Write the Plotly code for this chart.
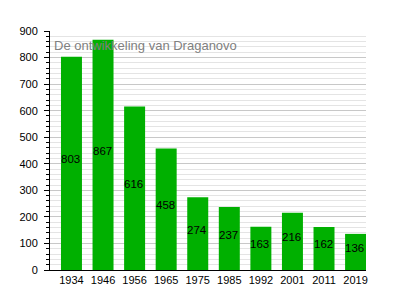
import plotly.graph_objects as go

years = ["1934", "1946", "1956", "1965", "1975", "1985", "1992", "2001", "2011", "2019"]
population = [803, 867, 616, 458, 274, 237, 163, 216, 162, 136]
title_text = "De ontwikkeling van Draganovo"

FONT = "Liberation Sans, Arial, sans-serif"

fig = go.Figure()
fig.add_trace(go.Bar(
    x=years, y=population,
    marker=dict(color="#00b000", line=dict(width=0)),
    hoverinfo="skip",
))

for i, v in enumerate(population):
    fig.add_annotation(
        x=i, y=v / 2, xref="x", yref="y",
        text=str(v), showarrow=False,
        xanchor="center", yanchor="middle",
        xshift=-1, yshift=4,
        font=dict(family=FONT, size=11.5, color="#000000"),
    )

fig.update_layout(
    width=395, height=300,
    margin=dict(l=50, r=29, t=31, b=30),
    paper_bgcolor="white", plot_bgcolor="white",
    bargap=0.335,
    showlegend=False,
    font=dict(family=FONT, size=11, color="#000000"),
)
fig.update_xaxes(
    type="category",
    range=[-0.68, 9.33],
    showline=True, linecolor="#000000", linewidth=1,
    ticks="", showgrid=False,
    tickfont=dict(size=11, color="#000000"),
)
fig.update_yaxes(
    range=[0, 900],
    dtick=100,
    showline=True, linecolor="#000000", linewidth=1,
    ticks="outside", ticklen=5, tickcolor="#000000",
    ticklabelstandoff=4,
    showgrid=True, gridcolor="#c8c8c8", gridwidth=1,
    zeroline=False,
    minor=dict(dtick=20, showgrid=True, gridcolor="#e4e4e4", gridwidth=1,
               ticks="outside", ticklen=3, tickcolor="#000000"),
    tickfont=dict(size=11, color="#000000"),
)

fig.add_annotation(
    text=title_text, xref="paper", yref="paper",
    x=0.006, y=0.94, xanchor="left", yanchor="middle",
    showarrow=False,
    font=dict(family=FONT, size=13, color="#808080"),
)

fig.write_html("out.html")
